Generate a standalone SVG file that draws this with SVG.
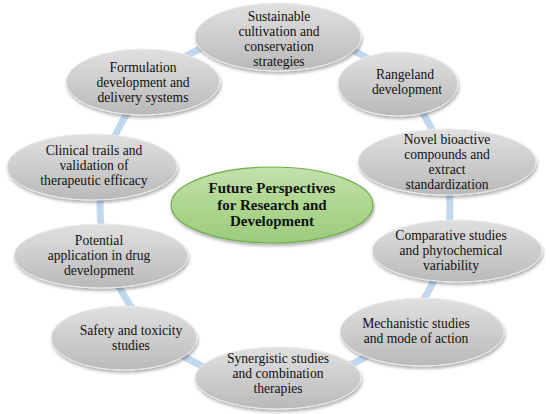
<svg xmlns="http://www.w3.org/2000/svg" width="550" height="414" viewBox="0 0 550 414" font-family="'Liberation Serif', 'Times New Roman', 'DejaVu Serif', serif">
<defs>
<linearGradient id="gGray" x1="0" y1="0" x2="0" y2="1">
<stop offset="0" stop-color="#e0e0e0"/>
<stop offset="0.5" stop-color="#cdcdcd"/>
<stop offset="1" stop-color="#b9b9b9"/>
</linearGradient>
<linearGradient id="gGreen" x1="0" y1="0" x2="0" y2="1">
<stop offset="0" stop-color="#c3e1ae"/>
<stop offset="0.5" stop-color="#aed68f"/>
<stop offset="1" stop-color="#9ccb7c"/>
</linearGradient>
<filter id="sh" x="-20%" y="-20%" width="140%" height="150%">
<feDropShadow dx="1" dy="2.5" stdDeviation="1.6" flood-color="#000" flood-opacity="0.3"/>
</filter>
</defs>
<style>
.n ellipse{fill:url(#gGray);stroke:#ececec;stroke-width:1;filter:url(#sh)}
text{font-family:'Liberation Serif','Times New Roman','DejaVu Serif',serif}
.n text{font-size:13.6px;fill:#111;text-anchor:middle}
#center ellipse{fill:url(#gGreen);stroke:#6fae48;stroke-width:1.2;filter:url(#sh)}
#center text{font-size:15px;font-weight:bold;fill:#111;text-anchor:middle}
.ring{fill:none;stroke:#c2d8ee;stroke-width:7}
</style>
<g id="connectors">
<circle class="ring" cx="275" cy="207" r="175"/>
</g>
<g id="n1" class="n">
<ellipse cx="278" cy="37" rx="83" ry="34"/>
<text x="279" y="21">Sustainable</text>
<text x="279" y="36.1">cultivation and</text>
<text x="279" y="51.2">conservation</text>
<text x="279" y="66.3">strategies</text>
</g>
<g id="n2" class="n">
<ellipse cx="398" cy="84" rx="60" ry="32"/>
<text x="405" y="79">Rangeland</text>
<text x="407" y="94.1">development</text>
</g>
<g id="n3" class="n">
<ellipse cx="447" cy="162" rx="89" ry="33"/>
<text x="447" y="144">Novel bioactive</text>
<text x="447" y="159.1">compounds and</text>
<text x="447" y="174.2">extract</text>
<text x="447" y="189.3">standardization</text>
</g>
<g id="n4" class="n">
<ellipse cx="457" cy="251" rx="85" ry="31"/>
<text x="451" y="240">Comparative studies</text>
<text x="451" y="255.1">and phytochemical</text>
<text x="451" y="270.2">variability</text>
</g>
<g id="n5" class="n">
<ellipse cx="422" cy="332" rx="82" ry="34"/>
<text x="416" y="328">Mechanistic studies</text>
<text x="416" y="343.1">and mode of action</text>
</g>
<g id="n6" class="n">
<ellipse cx="278" cy="378" rx="83" ry="31"/>
<text x="278" y="363">Synergistic studies</text>
<text x="278" y="378.1">and combination</text>
<text x="278" y="393.2">therapies</text>
</g>
<g id="n7" class="n">
<ellipse cx="124" cy="338" rx="73" ry="32"/>
<text x="131" y="334.5">Safety and toxicity</text>
<text x="131" y="349.6">studies</text>
</g>
<g id="n8" class="n">
<ellipse cx="101" cy="256" rx="87" ry="32"/>
<text x="99" y="244.5">Potential</text>
<text x="99" y="259.6">application in drug</text>
<text x="99" y="274.7">development</text>
</g>
<g id="n9" class="n">
<ellipse cx="92" cy="167" rx="85" ry="33"/>
<text x="94" y="155">Clinical trails and</text>
<text x="94" y="170.1">validation of</text>
<text x="94" y="185.2">therapeutic efficacy</text>
</g>
<g id="n10" class="n">
<ellipse cx="143" cy="82" rx="77" ry="33"/>
<text x="143" y="71.5">Formulation</text>
<text x="143" y="86.6">development and</text>
<text x="143" y="101.7">delivery systems</text>
</g>
<g id="center">
<ellipse cx="272" cy="205" rx="101" ry="38"/>
<text x="272" y="193">Future Perspectives</text>
<text x="272" y="209.6">for Research and</text>
<text x="272" y="226.2">Development</text>
</g>
</svg>
